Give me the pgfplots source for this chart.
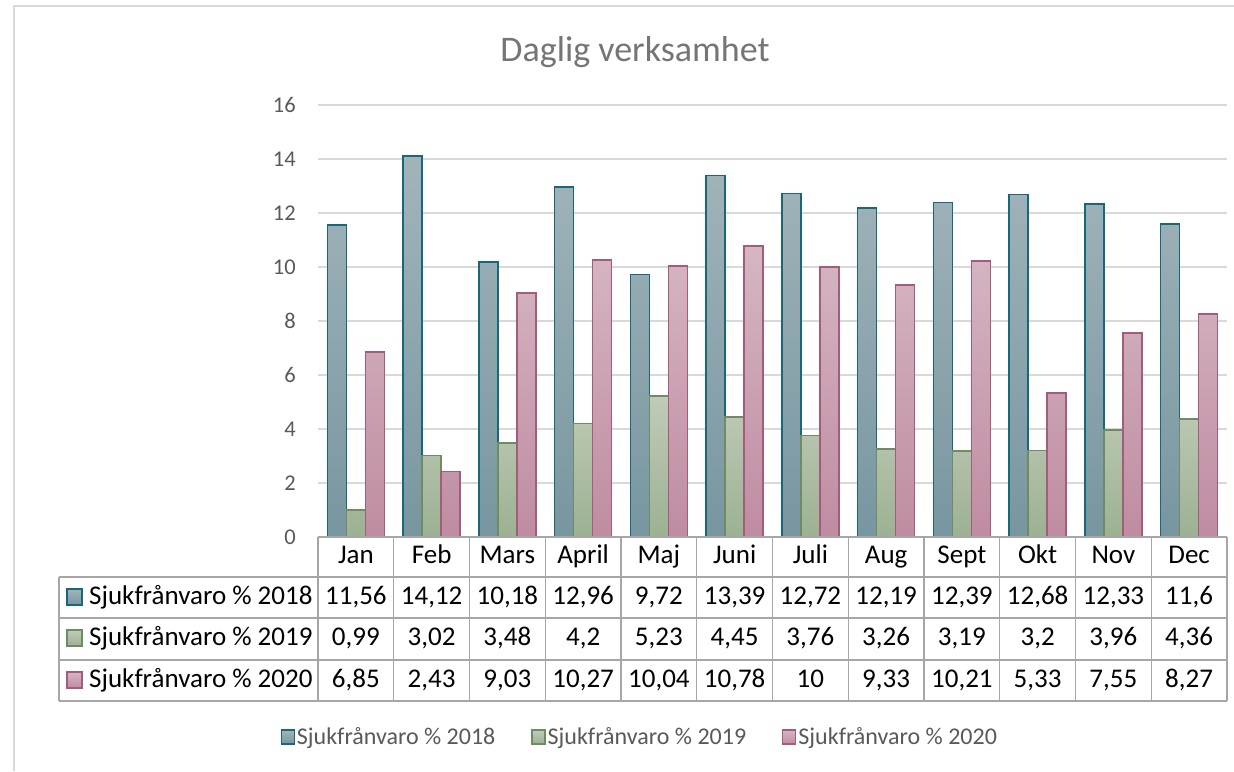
\documentclass[border=0pt]{standalone}
\usepackage{pgfplots}
\pgfplotsset{compat=1.18}
\usepackage{pgfplotstable}
\usepackage{fontspec}
\setmainfont{Carlito}

\definecolor{c1top}{HTML}{A2B4BA}
\definecolor{c1bot}{HTML}{7896A0}
\definecolor{c1line}{HTML}{17687A}
\definecolor{c2top}{HTML}{C0CBB8}
\definecolor{c2bot}{HTML}{9CB192}
\definecolor{c2line}{HTML}{6E8C62}
\definecolor{c3top}{HTML}{D5B6C3}
\definecolor{c3bot}{HTML}{BF8CA1}
\definecolor{c3line}{HTML}{A35C7D}
\definecolor{gridc}{HTML}{D9D9D9}
\definecolor{tabc}{HTML}{A6A6A6}
\definecolor{txtgray}{HTML}{595959}
\definecolor{titlegray}{HTML}{757575}

\tikzset{
  s1/.style={top color=c1top, bottom color=c1bot, draw=c1line},
  s2/.style={top color=c2top, bottom color=c2bot, draw=c2line},
  s3/.style={top color=c3top, bottom color=c3bot, draw=c3line},
}

\pgfplotstableread{
idx month a b c
0 Jan 11.56 0.99 6.85
1 Feb 14.12 3.02 2.43
2 Mars 10.18 3.48 9.03
3 April 12.96 4.2 10.27
4 Maj 9.72 5.23 10.04
5 Juni 13.39 4.45 10.78
6 Juli 12.72 3.76 10
7 Aug 12.19 3.26 9.33
8 Sept 12.39 3.19 10.21
9 Okt 12.68 3.2 5.33
10 Nov 12.33 3.96 7.55
11 Dec 11.6 4.36 8.27
}\data

\newcommand{\tabfont}{\fontsize{27}{32}\selectfont}

\begin{document}
\begin{tikzpicture}
\useasboundingbox (0,0) rectangle (1234pt,771pt);
\fill[white] (0,0) rectangle (1234pt,771pt);
\draw[gridc, line width=2pt] (14pt,0pt) -- (14pt,765pt) -- (1234pt,765pt);

\begin{axis}[
  at={(318pt,234pt)}, anchor=south west,
  scale only axis, width=909pt, height=432pt,
  xmin=-0.5, xmax=11.5, ymin=0, ymax=16,
  ytick={0,2,...,16}, xtick=\empty,
  ymajorgrids, grid style={gridc, line width=1.3pt},
  axis line style={draw=none}, major tick length=0pt,
  yticklabel style={font=\fontsize{22.5}{27}\selectfont, text=txtgray, inner sep=0pt, xshift=-22pt},
  /pgf/number format/assume math mode=true,
  clip=false,
  legend style={at={(0.354,-0.463)}, anchor=center, draw=none, fill=none,
    font=\fontsize{24}{28}\selectfont, text=txtgray,
    /tikz/every even column/.append style={column sep=34pt}},
  legend columns=3,
  legend image code/.code={\draw[#1,/tikz/.cd,line width=1.3pt] (0pt,-7pt) rectangle (13pt,7pt);},
]
\addplot[ybar, bar width=19pt, bar shift=-19pt, s1, line width=1.7pt] table[x=idx, y=a] {\data};
\addplot[ybar, bar width=19pt, bar shift=0pt, s2, line width=1.7pt] table[x=idx, y=b] {\data};
\addplot[ybar, bar width=19pt, bar shift=19pt, s3, line width=1.7pt] table[x=idx, y=c] {\data};
\legend{Sjukfrånvaro \% 2018, Sjukfrånvaro \% 2019, Sjukfrånvaro \% 2020}
\end{axis}

\begin{scope}[shift={(0pt,771pt)}, x=1pt, y=-1pt]
  % title
  \node[anchor=base, font=\fontsize{36}{42}\selectfont, text=titlegray] at (635,62) {Daglig verksamhet};
  % table grid
  \begin{scope}[tabc, line width=1.3pt]
    \draw (318,537) -- (1227,537);
    \foreach \yy in {577,618,660,701} \draw (59,\yy) -- (1227,\yy);
    \draw (59,577) -- (59,701);
    \foreach \k in {0,...,12} \draw (318+\k*75.75,537) -- (318+\k*75.75,701);
  \end{scope}
  % row labels
  \draw[s1, line width=1.3pt] (67,589) rectangle (82,605);
  \draw[s2, line width=1.3pt] (67,630) rectangle (82,646);
  \draw[s3, line width=1.3pt] (67,672) rectangle (82,688);
  \node[anchor=base west, font=\tabfont, inner sep=0pt] at (89,605) {Sjukfrånvaro \% 2018};
  \node[anchor=base west, font=\tabfont, inner sep=0pt] at (89,646) {Sjukfrånvaro \% 2019};
  \node[anchor=base west, font=\tabfont, inner sep=0pt] at (89,688) {Sjukfrånvaro \% 2020};
  % table cells
  \foreach \i in {0,...,11} {
    \pgfplotstablegetelem{\i}{month}\of\data
    \node[anchor=base, font=\tabfont, inner sep=0pt] at (355.875+75.75*\i,564) {\pgfplotsretval};
    \pgfplotstablegetelem{\i}{a}\of\data
    \node[anchor=base, font=\tabfont, inner sep=0pt] at (355.875+75.75*\i,605) {\pgfmathprintnumber[fixed,precision=2,use comma,assume math mode=true]{\pgfplotsretval}};
    \pgfplotstablegetelem{\i}{b}\of\data
    \node[anchor=base, font=\tabfont, inner sep=0pt] at (355.875+75.75*\i,646) {\pgfmathprintnumber[fixed,precision=2,use comma,assume math mode=true]{\pgfplotsretval}};
    \pgfplotstablegetelem{\i}{c}\of\data
    \node[anchor=base, font=\tabfont, inner sep=0pt] at (355.875+75.75*\i,688) {\pgfmathprintnumber[fixed,precision=2,use comma,assume math mode=true]{\pgfplotsretval}};
  }
\end{scope}
\end{tikzpicture}
\end{document}
